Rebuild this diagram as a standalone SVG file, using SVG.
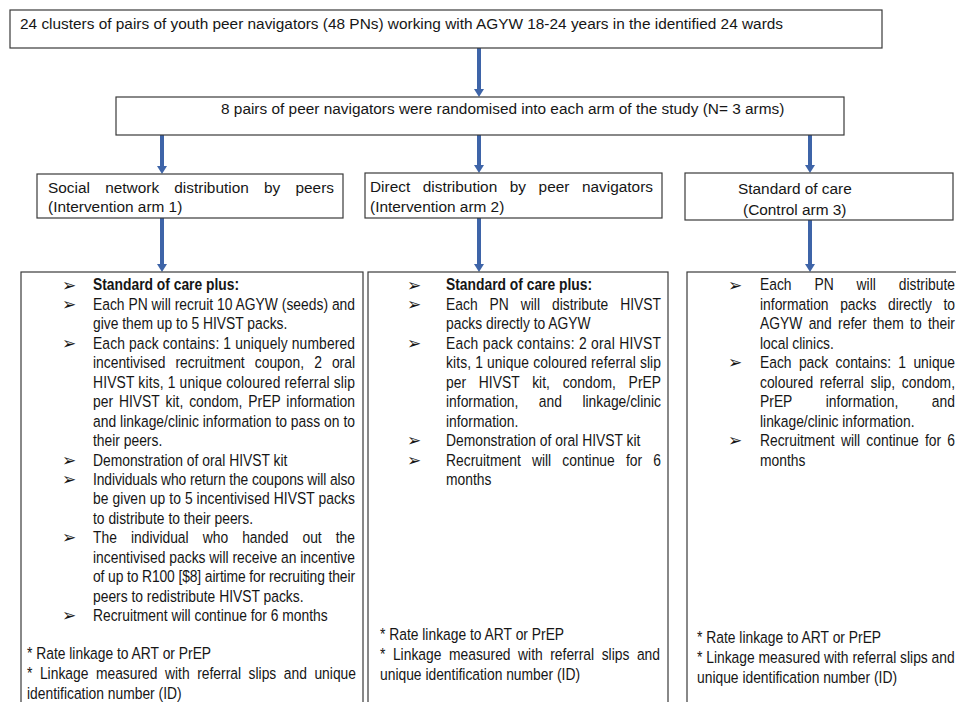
<svg xmlns="http://www.w3.org/2000/svg" width="956" height="702" viewBox="0 0 956 702">
<style>
.box{fill:#fff;stroke:#3a3a3a;stroke-width:1.2}
.h{font-family:"Liberation Sans",Arial,sans-serif;font-size:15.4px;fill:#161616}
.t{font-family:"Liberation Sans",Arial,sans-serif;font-size:16.3px;fill:#161616}
.b{font-weight:bold}
.bl{font-family:"DejaVu Sans",sans-serif;font-size:17px;fill:#161616}
.ar{stroke:#3e64a8;stroke-width:4;fill:none}
.ah{fill:#3e64a8}
</style>
<rect width="956" height="702" fill="#fff"/>
<g id="connectors">
<line class="ar" x1="479" y1="48" x2="479" y2="90"/><polygon class="ah" points="474,89 484,89 479,97"/>
<line class="ar" x1="162" y1="135" x2="162" y2="167"/><polygon class="ah" points="157,166 167,166 162,174"/>
<line class="ar" x1="479" y1="135" x2="479" y2="166"/><polygon class="ah" points="474,165 484,165 479,173"/>
<line class="ar" x1="810" y1="135" x2="810" y2="166"/><polygon class="ah" points="805,165 815,165 810,173"/>
<line class="ar" x1="162" y1="218" x2="162" y2="265"/><polygon class="ah" points="157,264 167,264 162,272"/>
<line class="ar" x1="479" y1="218" x2="479" y2="265"/><polygon class="ah" points="474,264 484,264 479,272"/>
<line class="ar" x1="810" y1="220" x2="810" y2="265"/><polygon class="ah" points="805,264 815,264 810,272"/>
</g>
<g id="top">
<rect class="box" x="10" y="10" width="872" height="38"/>
<text class="h" x="20" y="28.5">24 clusters of pairs of youth peer navigators (48 PNs) working with AGYW 18-24 years in the identified 24 wards</text>
</g>
<g id="randomise">
<rect class="box" x="116" y="97" width="728" height="38"/>
<text class="h" x="221" y="113.5">8 pairs of peer navigators were randomised into each arm of the study (N= 3 arms)</text>
</g>
<g id="arm1">
<rect class="box" x="37" y="174" width="306" height="44"/>
<text class="h" x="48" y="193" word-spacing="10.9" textLength="286" lengthAdjust="spacing">Social network distribution by peers</text>
<text class="h" x="48" y="212">(Intervention arm 1)</text>
</g>
<g id="arm2">
<rect class="box" x="365" y="173" width="297" height="45"/>
<text class="h" x="370" y="192" word-spacing="8.3" textLength="283" lengthAdjust="spacing">Direct distribution by peer navigators</text>
<text class="h" x="370" y="212">(Intervention arm 2)</text>
</g>
<g id="arm3">
<rect class="box" x="685" y="173" width="268" height="47"/>
<text class="h" x="738" y="194">Standard of care</text>
<text class="h" x="743" y="215">(Control arm 3)</text>
</g>
<g id="detail1">
<rect class="box" x="21" y="272" width="342" height="440"/>
<text class="bl" x="62" y="290.5">➢</text>
<text class="bl" x="62" y="310">➢</text>
<text class="bl" x="62" y="348.8">➢</text>
<text class="bl" x="62" y="465.5">➢</text>
<text class="bl" x="62" y="485">➢</text>
<text class="bl" x="62" y="543.3">➢</text>
<text class="bl" x="62" y="621.1">➢</text>
<g transform="scale(0.85 1)">
<text class="t b" x="109.41" y="290.5">Standard of care plus:</text>
<text class="t" x="109.41" y="310" textLength="308.24" lengthAdjust="spacing">Each PN will recruit 10 AGYW (seeds) and</text>
<text class="t" x="109.41" y="329.4">give them up to 5 HIVST packs.</text>
<text class="t" x="109.41" y="348.85" textLength="308.24" lengthAdjust="spacing">Each pack contains: 1 uniquely numbered</text>
<text class="t" x="109.41" y="368.3" word-spacing="7.3" textLength="308.24" lengthAdjust="spacing">incentivised recruitment coupon, 2 oral</text>
<text class="t" x="109.41" y="387.75" textLength="308.24" lengthAdjust="spacing">HIVST kits, 1 unique coloured referral slip</text>
<text class="t" x="109.41" y="407.2" word-spacing="2.4" textLength="308.24" lengthAdjust="spacing">per HIVST kit, condom, PrEP information</text>
<text class="t" x="109.41" y="426.65" textLength="308.24" lengthAdjust="spacing">and linkage/clinic information to pass on to</text>
<text class="t" x="109.41" y="446.1">their peers.</text>
<text class="t" x="109.41" y="465.55">Demonstration of oral HIVST kit</text>
<text class="t" x="109.41" y="485" textLength="308.24" lengthAdjust="spacing">Individuals who return the coupons will also</text>
<text class="t" x="109.41" y="504.45" textLength="308.24" lengthAdjust="spacing">be given up to 5 incentivised HIVST packs</text>
<text class="t" x="109.41" y="523.9">to distribute to their peers.</text>
<text class="t" x="109.41" y="543.35" word-spacing="12" textLength="308.24" lengthAdjust="spacing">The individual who handed out the</text>
<text class="t" x="109.41" y="562.8" textLength="308.24" lengthAdjust="spacing">incentivised packs will receive an incentive</text>
<text class="t" x="109.41" y="582.25" textLength="308.24" lengthAdjust="spacing">of up to R100 [$8] airtime for recruiting their</text>
<text class="t" x="109.41" y="601.7">peers to redistribute HIVST packs.</text>
<text class="t" x="109.41" y="621.15">Recruitment will continue for 6 months</text>
<text class="t" x="31.76" y="659">* Rate linkage to ART or PrEP</text>
<text class="t" x="31.76" y="679" word-spacing="4.3" textLength="387.06" lengthAdjust="spacing">* Linkage measured with referral slips and unique</text>
<text class="t" x="31.76" y="699">identification number (ID)</text>
</g>
</g>
<g id="detail2">
<rect class="box" x="368" y="272" width="300" height="440"/>
<text class="bl" x="407" y="290.5">➢</text>
<text class="bl" x="407" y="310">➢</text>
<text class="bl" x="407" y="348.8">➢</text>
<text class="bl" x="407" y="446.1">➢</text>
<text class="bl" x="407" y="465.5">➢</text>
<g transform="scale(0.85 1)">
<text class="t b" x="524.71" y="290.5">Standard of care plus:</text>
<text class="t" x="524.71" y="310" word-spacing="9.5" textLength="252.94" lengthAdjust="spacing">Each PN will distribute HIVST</text>
<text class="t" x="524.71" y="329.4">packs directly to AGYW</text>
<text class="t" x="524.71" y="348.85" textLength="252.94" lengthAdjust="spacing">Each pack contains: 2 oral HIVST</text>
<text class="t" x="524.71" y="368.3" textLength="252.94" lengthAdjust="spacing">kits, 1 unique coloured referral slip</text>
<text class="t" x="524.71" y="387.75" word-spacing="10.4" textLength="252.94" lengthAdjust="spacing">per HIVST kit, condom, PrEP</text>
<text class="t" x="524.71" y="407.2" word-spacing="19.5" textLength="252.94" lengthAdjust="spacing">information, and linkage/clinic</text>
<text class="t" x="524.71" y="426.65">information.</text>
<text class="t" x="524.71" y="446.1">Demonstration of oral HIVST kit</text>
<text class="t" x="524.71" y="465.55" word-spacing="8.6" textLength="252.94" lengthAdjust="spacing">Recruitment will continue for 6</text>
<text class="t" x="524.71" y="485">months</text>
<text class="t" x="447.06" y="640">* Rate linkage to ART or PrEP</text>
<text class="t" x="447.06" y="660" word-spacing="4.3" textLength="329.41" lengthAdjust="spacing">* Linkage measured with referral slips and</text>
<text class="t" x="447.06" y="680">unique identification number (ID)</text>
</g>
</g>
<g id="detail3">
<rect class="box" x="687" y="272" width="280" height="440"/>
<text class="bl" x="728" y="290.5">➢</text>
<text class="bl" x="728" y="368.3">➢</text>
<text class="bl" x="728" y="446.1">➢</text>
<g transform="scale(0.85 1)">
<text class="t" x="894.12" y="290.5" word-spacing="22.4" textLength="229.41" lengthAdjust="spacing">Each PN will distribute</text>
<text class="t" x="894.12" y="310" word-spacing="9.1" textLength="229.41" lengthAdjust="spacing">information packs directly to</text>
<text class="t" x="894.12" y="329.4" word-spacing="2.9" textLength="229.41" lengthAdjust="spacing">AGYW and refer them to their</text>
<text class="t" x="894.12" y="348.85">local clinics.</text>
<text class="t" x="894.12" y="368.3" word-spacing="4.1" textLength="229.41" lengthAdjust="spacing">Each pack contains: 1 unique</text>
<text class="t" x="894.12" y="387.75" word-spacing="3.4" textLength="229.41" lengthAdjust="spacing">coloured referral slip, condom,</text>
<text class="t" x="894.12" y="407.2" word-spacing="35" textLength="229.41" lengthAdjust="spacing">PrEP information, and</text>
<text class="t" x="894.12" y="426.65">linkage/clinic information.</text>
<text class="t" x="894.12" y="446.1" word-spacing="2.8" textLength="229.41" lengthAdjust="spacing">Recruitment will continue for 6</text>
<text class="t" x="894.12" y="465.55">months</text>
<text class="t" x="820" y="643">* Rate linkage to ART or PrEP</text>
<text class="t" x="820" y="663">* Linkage measured with referral slips and</text>
<text class="t" x="820" y="683">unique identification number (ID)</text>
</g>
</g>
</svg>
